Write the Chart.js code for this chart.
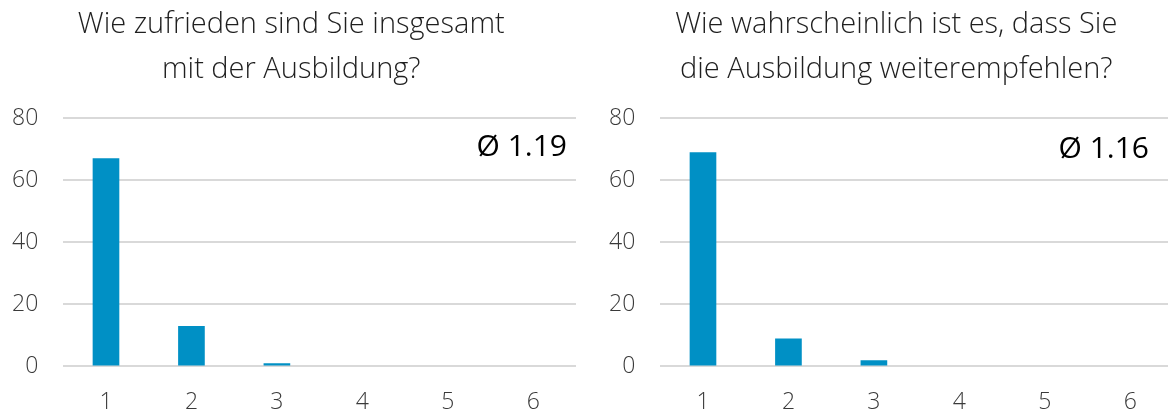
<!DOCTYPE html>
<html>
<head>
<meta charset="utf-8">
<script src="https://cdn.jsdelivr.net/npm/chart.js@4.4.1/dist/chart.umd.min.js"></script>
<style>
  html, body { margin: 0; padding: 0; background: #fff; overflow: hidden; }
  #wrap { position: relative; width: 1168px; height: 415px; overflow: hidden; }
  .box { position: absolute; top: 0; width: 597px; height: 439px; }
  #boxLeft { left: -13px; }
  #boxRight { left: 584px; }
</style>
</head>
<body>
<div id="wrap">
  <div class="box" id="boxLeft"><canvas id="chartLeft"></canvas></div>
  <div class="box" id="boxRight"><canvas id="chartRight"></canvas></div>
</div>
<script>
// categories (answer scale) and counts per chart
var categories = ["1", "2", "3", "4", "5", "6"];
var satisfactionCounts = [67, 13, 1, 0, 0, 0];
var recommendCounts = [69, 9, 2, 0, 0, 0];
var titleLeft = ["Wie zufrieden sind Sie insgesamt", "mit der Ausbildung?"];
var titleRight = ["Wie wahrscheinlich ist es, dass Sie", "die Ausbildung weiterempfehlen?"];
var averageLabels = ["Ø 1.19", "Ø 1.16"];
var yTicks = [0, 20, 40, 60, 80];

var fontFamily = "'Open Sans', 'Segoe UI', sans-serif";

// draws the two-line question above the plot and the average in its top right corner
var headerPlugin = {
    id: "header",
    afterDraw: function (chart, args, opts) {
        var ctx = chart.ctx;
        var area = chart.chartArea;
        ctx.save();
        ctx.textBaseline = "middle";
        ctx.textAlign = "center";
        ctx.fillStyle = "#1f1f1f";
        ctx.font = "300 29px " + fontFamily;
        for (var i = 0; i < opts.title.length; i++) {
            ctx.fillText(opts.title[i], area.left + opts.titleCenter, 25 + i * 45);
        }
        ctx.font = "400 30px " + fontFamily;
        ctx.fillStyle = "#000";
        ctx.textAlign = "right";
        ctx.fillText(opts.avg, area.right - opts.avgRight, area.top + opts.avgTop);
        ctx.restore();
    }
};

function createChart(canvasId, title, counts, avgText, titleCenter, avgRight, avgTop) {
    var canvasChart = document.getElementById(canvasId);
    return new Chart(canvasChart, {
        type: "bar",
        data: {
            labels: categories,
            datasets: [{
                data: counts,
                backgroundColor: "#0090C5",
                borderWidth: 0,
                barPercentage: 0.312,
                categoryPercentage: 1
            }]
        },
        options: {
            responsive: true,
            maintainAspectRatio: false,
            animation: false,
            layout: { padding: { left: 0, right: 8, top: 118, bottom: 1 } },
            plugins: {
                legend: { display: false },
                tooltip: { enabled: false },
                title: { display: false },
                header: { title: title, avg: avgText, titleCenter: titleCenter, avgRight: avgRight, avgTop: avgTop }
            },
            scales: {
                x: {
                    grid: { display: false, drawTicks: false },
                    border: { display: false },
                    ticks: {
                        color: "#3a3a3a",
                        padding: 22,
                        font: { family: fontFamily, size: 23, weight: "300" }
                    }
                },
                y: {
                    min: 0,
                    max: 80,
                    afterBuildTicks: function (axis) {
                        axis.ticks = yTicks.map(function (v) { return { value: v }; });
                    },
                    grid: { color: "#D9D9D9", lineWidth: 2, drawTicks: false },
                    border: { display: false },
                    ticks: {
                        color: "#3a3a3a",
                        padding: 25,
                        font: { family: fontFamily, size: 23, weight: "300" }
                    }
                }
            }
        },
        plugins: [headerPlugin]
    });
}

createChart("chartLeft", titleLeft, satisfactionCounts, averageLabels[0], 228, 9, 29);
createChart("chartRight", titleRight, recommendCounts, averageLabels[1], 236, 24, 31);
</script>
</body>
</html>
